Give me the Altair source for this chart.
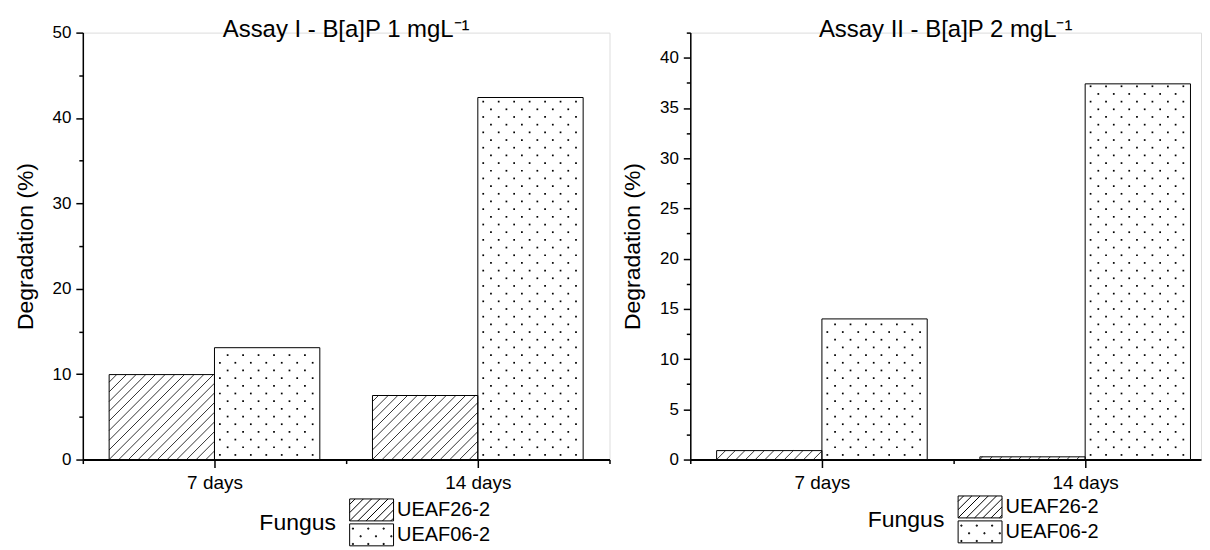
import altair as alt
import pandas as pd

# ---------------- data ----------------
categories = ["7 days", "14 days"]
fungi = ["UEAF26-2", "UEAF06-2"]
assay1_ueaf26 = [9.95, 7.5]
assay1_ueaf06 = [13.1, 42.4]
assay2_ueaf26 = [0.89, 0.27]
assay2_ueaf06 = [14.0, 37.4]
titles = ["Assay I - B[a]P 1 mgL\u207b\u00b9", "Assay II - B[a]P 2 mgL\u207b\u00b9"]
y_title = "Degradation (%)"
legend_title = "Fungus"

FONT = "Liberation Sans"
BAR_W = 0.4  # bar width in category units


def table(v26, v06):
    rows = []
    for i, cat in enumerate(categories):
        for j, (f, vals) in enumerate(zip(fungi, [v26, v06])):
            rows.append({"category": cat, "pos": i + 1, "fi": j,
                         "fungus": f, "value": vals[i]})
    return pd.DataFrame(rows)


# ---------- legend swatch shapes (pattern style only) ----------
def hatch_path():
    parts = ["M-2,-1H2V1H-2Z"]
    hh = 0.75
    k = -8
    while True:
        c = -2 + k * hh
        if c > 2:
            break
        t0 = max(0.0, -2 - c)
        t1 = min(2.0, 2 - c)
        if t1 - t0 > 0.05:
            parts.append(f"M{c + t0:.3f},{1 - t0:.3f}L{c + t1:.3f},{1 - t1:.3f}")
        k += 1
    return "".join(parts)


def dots_path():
    parts = ["M-2,-1H2V1H-2Z"]
    dx, dy = 1.4, 0.7
    for r, yy in enumerate([-0.62, 0.08, 0.78]):
        x = -1.75 + (0.7 if r % 2 else 0.0)
        while x < 1.85:
            parts.append(f"M{x:.2f},{yy:.2f}h0.1v0.1h-0.1Z")
            x += dx
    return "".join(parts)


HATCH = hatch_path()
DOTS = dots_path()


def panel(df, title, ymax, ystep_minor, ystep_major, xdom, width, height,
          legend_x, legend_y):
    kx = width / (xdom[1] - xdom[0])
    ky = height / ymax
    s = kx / ky               # slope that gives 45 degree hatch in pixels
    h = 9.7 / kx              # hatch spacing (x units)
    dx = 15.5 / kx            # dot spacing
    dy = 7.7 / ky

    n = int(round(ymax / ystep_minor))
    yvals = [round(k * ystep_minor, 4) for k in range(n + 1)]
    ytest = f"abs(datum.value / {ystep_major} - round(datum.value / {ystep_major})) < 1e-6"
    xvals = [v for v in [0.5, 1, 1.5, 2, 2.5] if v <= xdom[1] + 1e-9]
    xlab = " : ".join(f"datum.value == {i + 1} ? '{c}'" for i, c in enumerate(categories)) + " : ''"

    x_axis = alt.Axis(values=xvals, labelExpr=xlab, title=None, grid=False,
                      labelFontSize=19, labelFont=FONT, labelColor="black",
                      labelPadding=6, labelFlush=False, labelOverlap=False,
                      domainColor="black", domainWidth=2, tickColor="black",
                      tickWidth=1.5,
                      tickSize={"condition": {"test": "datum.value % 1 == 0", "value": 8}, "value": 4})
    y_axis = alt.Axis(values=yvals, title=y_title, grid=False,
                      labelExpr=f"{ytest} ? datum.label : ''",
                      labelFontSize=17, labelFont=FONT, labelColor="black",
                      labelPadding=5, labelOverlap=False, labelFlush=False,
                      titleFontSize=23, titleFont=FONT, titleFontWeight="normal",
                      titleColor="black", titlePadding=15,
                      domainColor="black", domainWidth=1.5, tickColor="black",
                      tickWidth=1.5,
                      tickSize={"condition": {"test": ytest, "value": 7}, "value": 4})
    xs = alt.Scale(domain=xdom, nice=False, zero=False)
    ys = alt.Scale(domain=[0, ymax], nice=False, zero=True)

    base = alt.Chart(df).transform_calculate(
        x0=f"datum.pos - {BAR_W} + {BAR_W} * datum.fi",
        x1=f"datum.pos + {BAR_W} * datum.fi",
    )

    bars = base.mark_rect(fill="white").encode(
        x=alt.X("x0:Q", scale=xs, axis=x_axis),
        x2="x1:Q",
        y=alt.Y("value:Q", scale=ys, axis=y_axis),
        y2=alt.datum(0),
    )

    hatch = base.transform_filter("datum.fi == 0").transform_calculate(
        k="sequence(-80, 80)"
    ).transform_flatten(["k"]).transform_calculate(
        c=f"datum.x0 + datum.k * {h}"
    ).transform_calculate(
        xa="max(datum.c, datum.x0)",
        xb=f"min(datum.x1, datum.c + datum.value / {s})",
    ).transform_filter("datum.xb > datum.xa + 1e-6").transform_calculate(
        ya=f"(datum.xa - datum.c) * {s}",
        yb=f"(datum.xb - datum.c) * {s}",
    ).mark_rule(color="black", strokeWidth=0.8).encode(
        x=alt.X("xa:Q", scale=xs, axis=x_axis),
        x2="xb:Q",
        y=alt.Y("ya:Q", scale=ys, axis=y_axis),
        y2="yb:Q",
    )

    dots = base.transform_filter("datum.fi == 1").transform_calculate(
        r="sequence(0, 90)"
    ).transform_flatten(["r"]).transform_calculate(
        cc="sequence(0, 12)"
    ).transform_flatten(["cc"]).transform_calculate(
        px=f"datum.x0 + (datum.cc + 0.35 + 0.5 * (datum.r % 2)) * {dx}",
        py=f"(datum.r + 0.6) * {dy}",
    ).transform_filter(
        f"datum.px < datum.x1 - 0.2 * {dx} && datum.py < datum.value - 0.2 * {dy}"
    ).mark_square(size=3, color="black", opacity=1).encode(
        x=alt.X("px:Q", scale=xs, axis=x_axis),
        y=alt.Y("py:Q", scale=ys, axis=y_axis),
    )

    outline = base.mark_rect(fillOpacity=0, stroke="black", strokeWidth=1).encode(
        x=alt.X("x0:Q", scale=xs, axis=x_axis),
        x2="x1:Q",
        y=alt.Y("value:Q", scale=ys, axis=y_axis),
        y2=alt.datum(0),
    )

    legend_pts = base.mark_point(opacity=0, filled=False, color="black",
                                 strokeWidth=1).encode(
        x=alt.X("x0:Q", scale=xs, axis=x_axis),
        y=alt.Y("value:Q", scale=ys, axis=y_axis),
        shape=alt.Shape("fungus:N",
                        scale=alt.Scale(domain=fungi, range=[HATCH, DOTS]),
                        legend=alt.Legend(
                            title=legend_title, orient="none",
                            legendX=legend_x, legendY=legend_y,
                            direction="vertical", titleOrient="left",
                            titleAnchor="middle", titleBaseline="middle",
                            titleFontSize=23, titleFont=FONT,
                            titleFontWeight="normal", titleColor="black",
                            titlePadding=24, labelFontSize=20, labelFont=FONT,
                            labelColor="black", labelOffset=14,
                            symbolSize=484, symbolStrokeWidth=1,
                            symbolStrokeColor="black",
                            symbolOpacity=1, rowPadding=-3, padding=0,
                        )),
    )

    return alt.layer(bars, hatch, dots, outline, legend_pts).properties(
        width=width, height=height,
        title=alt.TitleParams(title, fontSize=24, font=FONT,
                              fontWeight="normal", color="black",
                              anchor="middle", offset=-18.5),
    )


left = panel(table(assay1_ueaf26, assay1_ueaf06), titles[0], 50, 5, 10,
             [0.5, 2.5], 528, 428, 177, 467)
right = panel(table(assay2_ueaf26, assay2_ueaf06), titles[1], 42.5, 2.5, 5,
              [0.5, 2.44], 512, 428, 178, 464)

chart = alt.hconcat(left, right, spacing=9).resolve_scale(
    x="independent", y="independent", shape="independent"
).resolve_legend(shape="independent").properties(
    padding={"left": 5, "top": 9, "right": 0, "bottom": 0}
).configure_view(strokeWidth=0).configure(font=FONT, background="white")

chart.save("out.html", embed_options={"renderer": "svg", "actions": False})
